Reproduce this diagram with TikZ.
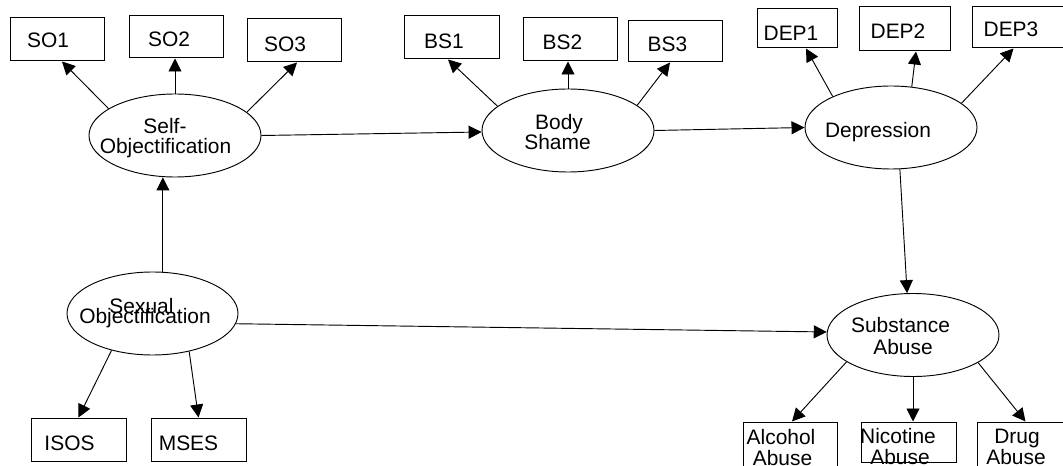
\documentclass[tikz,border=0pt]{standalone}
\usepackage{fontspec}
\setmainfont{Liberation Sans}
\usetikzlibrary{arrows.meta,shapes.geometric}
\def\pxu{*0.75pt}
\begin{document}
\begin{tikzpicture}[x=0.75pt,y=-0.75pt,
  box/.style 2 args={draw, rectangle, line width=0.75pt, inner sep=0pt,
    minimum width=#1\pxu, minimum height=#2\pxu},
  lat/.style={draw, ellipse, line width=0.7pt, inner sep=0pt,
    minimum width=172\pxu, minimum height=83\pxu},
  txt/.style={anchor=base, inner sep=0pt, font=\fontsize{15.7}{18}\selectfont},
  arr/.style={-{Triangle[length=9.75pt,width=9.75pt]}, line width=0.7pt},
]
\useasboundingbox (0,0) rectangle (1063,466);

% latent variables
\node[lat] (SO) at (175,135.5) {};
\node[lat] (BS) at (568,130.5) {};
\node[lat] (DEP) at (891,127.5) {};
\node[lat] (SA) at (913,335) {};
\node[lat, minimum width=171\pxu] (SexO) at (152.5,313.5) {};

% indicators
\node[box={94}{43}] (SO1) at (57,39.5) {};
\node[box={94}{42}] (SO2) at (176,37) {};
\node[box={94}{43}] (SO3) at (294,40.5) {};
\node[box={95}{43}] (BS1) at (451.5,37.5) {};
\node[box={94}{43}] (BS2) at (570,39.5) {};
\node[box={94}{41}] (BS3) at (675,41.5) {};
\node[box={80}{39}] (DEP1) at (797,28.5) {};
\node[box={91}{44}] (DEP2) at (904.5,29) {};
\node[box={91}{41}] (DEP3) at (1017.5,27.5) {};
\node[box={95}{43}] (ISOS) at (78.5,439.5) {};
\node[box={95}{43}] (MSES) at (198.5,439.5) {};
\node[box={94}{45}] (ALC) at (790,444.5) {};
\node[box={95}{40}] (NIC) at (908.5,442) {};
\node[box={87}{45}] (DRUG) at (1020.5,444.5) {};

% texts
\node[txt] (tSO1) at (48,48) {SO1};
\node[txt] (tSO2) at (169,47) {SO2};
\node[txt] (tSO3) at (285,52) {SO3};
\node[txt] (tBS1) at (444,49) {BS1};
\node[txt] (tBS2) at (562.5,50) {BS2};
\node[txt] (tBS3) at (667.5,52) {BS3};
\node[txt] (tDEP1) at (791,41) {DEP1};
\node[txt] (tDEP2) at (898,39) {DEP2};
\node[txt] (tDEP3) at (1011,37) {DEP3};
\node[txt] (tSOa) at (165,134) {Self-};
\node[txt] (tSOb) at (165.5,154) {Objectification};
\node[txt] (tBSa) at (559,130) {Body};
\node[txt] (tBSb) at (557.5,150) {Shame};
\node[txt] (tDEP) at (878,138) {Depression};
\node[txt] (tSexa) at (141.5,314) {Sexual};
\node[txt] (tSexb) at (145,323.5) {Objectification};
\node[txt] (tSAa) at (900.5,333) {Substance};
\node[txt] (tSAb) at (903,354) {Abuse};
\node[txt] (tISOS) at (69.5,450) {ISOS};
\node[txt] (tMSES) at (188.5,450) {MSES};
\node[txt] (tALCa) at (781,444) {Alcohol};
\node[txt] (tALCb) at (782.5,465) {Abuse};
\node[txt] (tNICa) at (898,443) {Nicotine};
\node[txt] (tNICb) at (900,464) {Abuse};
\node[txt] (tDRUGa) at (1017,443) {Drug};
\node[txt] (tDRUGb) at (1016,464) {Abuse};

% measurement arrows
\draw[arr] (SO.158) -- ([xshift=5\pxu]SO1.south);
\draw[arr] (SO.north) -- (SO.north |- SO2.south);
\draw[arr] (SO.18) -- ([xshift=3\pxu]SO3.south);
\draw[arr] (BS.161) -- ([xshift=-3.5\pxu]BS1.south);
\draw[arr] (BS.north) -- (BS.north |- BS2.south);
\draw[arr] (BS.20) -- ([xshift=-5\pxu]BS3.south);
\draw[arr] (DEP.152) -- ([xshift=9\pxu]DEP1.south);
\draw[arr] (DEP.63) -- ([xshift=11.5\pxu]DEP2.south);
\draw[arr] (DEP.19) -- ([xshift=-4\pxu]DEP3.south);
\draw[arr] (SexO.222) -- (ISOS.north);
\draw[arr] (SexO.314) -- (MSES.north);
\draw[arr] (SA.202) -- ([xshift=2\pxu]ALC.north);
\draw[arr] (SA.south) -- (SA.south |- NIC.north);
\draw[arr] (SA.-23) -- ([xshift=5\pxu]DRUG.north);

% structural arrows
\draw[arr] (SexO.76) -- (SexO.76 |- SO.south);
\draw[arr] (SO.east) -- (BS.181);
\draw[arr] (BS.east) -- (DEP.west);
\draw[arr] (DEP.-78) -- (SA.98);
\draw[arr] (SexO.-7) -- (SA.178);
\end{tikzpicture}
\end{document}
